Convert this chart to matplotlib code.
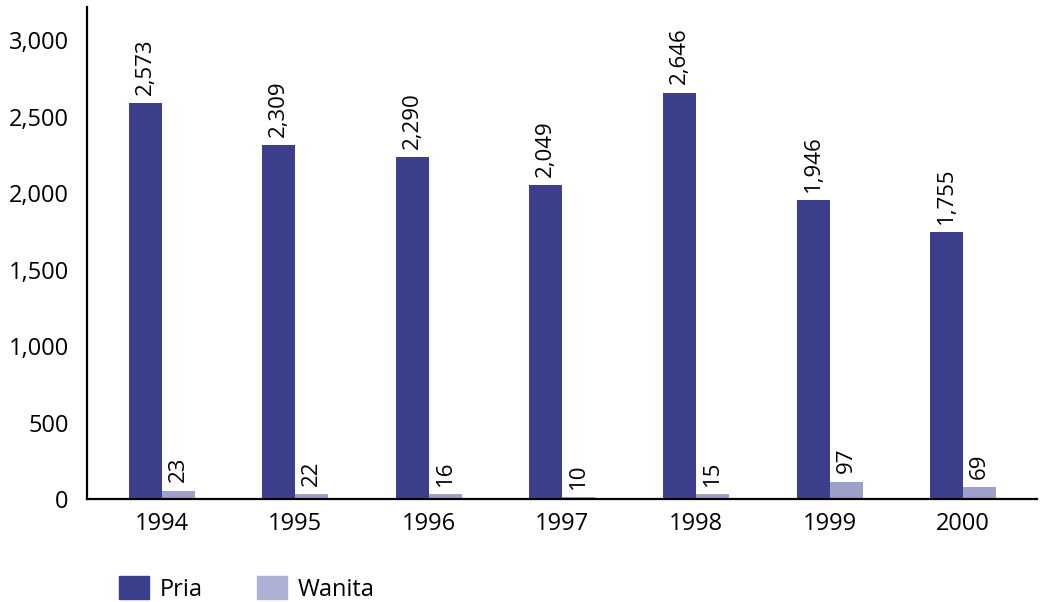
import matplotlib.pyplot as plt
from matplotlib.patches import Patch
import numpy as np

plt.rcParams['font.family'] = ['Open Sans', 'DejaVu Sans']

years = ["1994", "1995", "1996", "1997", "1998", "1999", "2000"]

# values written on the bars
pria_values = [2573, 2309, 2290, 2049, 2646, 1946, 1755]
wanita_values = [23, 22, 16, 10, 15, 97, 69]

# bar heights as drawn in the original (they do not quite follow the labels)
pria_heights = [2587, 2314, 2236, 2053, 2656, 1955, 1746]
wanita_heights = [56, 35, 35, 15, 35, 115, 80]

pria_color = '#3B3F8C'
wanita_color = '#9FA0C8'
wanita_legend_color = '#AEB1D4'

fig = plt.figure(figsize=(10.46, 6.02), dpi=100)
ax = fig.add_axes([0.0829, 0.1706, 0.9082, 0.8173])

x = np.arange(len(years))
w = 0.247

ax.bar(x - w / 2, pria_heights, width=w, color=pria_color)
ax.bar(x + w / 2, wanita_heights, width=w, color=wanita_color)

# rotated value labels above each bar
for i in range(len(years)):
    ax.annotate(f"{pria_values[i]:,}", (x[i] - w / 2, pria_heights[i]),
                xytext=(0, 6), textcoords='offset points',
                rotation=90, ha='center', va='bottom', fontsize=16)
    ax.annotate(f"{wanita_values[i]:,}", (x[i] + w / 2, wanita_heights[i]),
                xytext=(0, 6), textcoords='offset points',
                rotation=90, ha='center', va='bottom', fontsize=16)

ax.set_xlim(-0.56, 6.55)
ax.set_ylim(0, 3214)
ax.set_xticks(x)
ax.set_xticklabels(years, fontsize=17)
ax.set_yticks([0, 500, 1000, 1500, 2000, 2500, 3000])
ax.set_yticklabels(["0", "500", "1,000", "1,500", "2,000", "2,500", "3,000"], fontsize=17)
ax.tick_params(axis='both', length=0)
ax.tick_params(axis='y', pad=13)
ax.tick_params(axis='x', pad=9)

for side in ['top', 'right']:
    ax.spines[side].set_visible(False)
for side in ['left', 'bottom']:
    ax.spines[side].set_linewidth(1.6)
    ax.spines[side].set_color('black')

handles = [Patch(color=pria_color, label='Pria'),
           Patch(color=wanita_legend_color, label='Wanita')]
fig.legend(handles=handles, loc='center left', bbox_to_anchor=(0.114, 0.022),
           ncol=2, frameon=False, fontsize=17, handlelength=1.27,
           handleheight=1.15, handletextpad=0.45, columnspacing=2.3,
           borderpad=0, borderaxespad=0)

plt.savefig("out.png", dpi=100, facecolor="white")
